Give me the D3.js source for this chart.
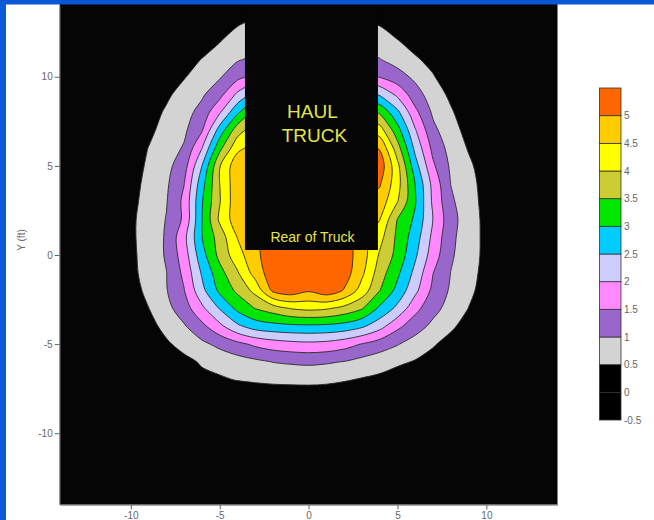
<!DOCTYPE html>
<html><head><meta charset="utf-8">
<script src="https://cdn.jsdelivr.net/npm/d3@7"></script>
<style>html,body{margin:0;padding:0;background:#fff;overflow:hidden;} svg{display:block;}</style>
</head><body><svg id="c" width="654" height="520"></svg>
<script>
// ---- data ----
const xTicks = [-10, -5, 0, 5, 10];
const yTicks = [-10, -5, 0, 5, 10];
const levels = [0.5, 1, 1.5, 2, 2.5, 3, 3.5, 4, 4.5, 5];
const levelColors = ["#d3d3d3", "#9966cc", "#ff88ff", "#ccccff", "#00ccff", "#00e600", "#cccc33", "#ffff00", "#ffcc00", "#ff6600"];
const legendBands = [-0.5, 0, 0.5, 1, 1.5, 2, 2.5, 3, 3.5, 4, 4.5, 5];
const legendBandColors = ["#000000", "#000000", "#d3d3d3", "#9966cc", "#ff88ff", "#ccccff", "#00ccff", "#00e600", "#cccc33", "#ffff00", "#ffcc00", "#ff6600"];
const legendLabelValues = [5, 4.5, 4, 3.5, 3, 2.5, 2, 1.5, 1, 0.5, 0, -0.5];
const legendLabels = ["5", "4.5", "4", "3.5", "3", "2.5", "2", "1.5", "1", "0.5", "0", "-0.5"];
// grid columns x = -14..14 (1 ft); rows y = 14 .. -14
const gridX = d3.range(-14, 15);
const gridY = d3.range(14, -15, -1);
const gridRows = [
/* 14 */ [0,0,0,0, 0,0,0,0,0,0,0,0.2,0.3,0.3,0.3,0.3,0.3,0.2,0,0,0,0,0,0,0, 0,0,0,0],
/* 13 */ [0,0,0,0, 0,0,0,0,0,0.2,0.45,0.6,0.65,0.65,0.65,0.65,0.6,0.55,0.45,0.2,0,0,0,0,0, 0,0,0,0],
/* 12 */ [0,0,0,0, 0,0,0,0,0.24,0.48,0.73,0.9,0.95,0.95,0.95,0.95,0.9,0.85,0.78,0.53,0.29,0.05,0,0,0, 0,0,0,0],
/* 11 */ [0,0,0,0, 0,0,0.1,0.3,0.51,0.72,0.94,1.1,1.2,1.2,1.2,1.2,1.15,1.1,1.01,0.79,0.56,0.33,0.1,0,0, 0,0,0,0],
/* 10 */ [0,0,0,0, 0,0,0.22,0.47,0.71,0.95,1.36,1.65,1.8,1.8,1.8,1.8,1.8,1.7,1.47,1.2,0.89,0.54,0.18,0,0, 0,0,0,0],
/*  9 */ [0,0,0,0, 0,0.17,0.42,0.67,0.93,1.34,2.11,2.7,2.9,2.9,2.9,2.9,2.9,2.8,2.45,1.89,1.21,0.75,0.4,0.04,0, 0,0,0,0],
/*  8 */ [0,0,0,0, 0.06,0.31,0.56,0.82,1.17,1.95,2.91,3.7,3.9,3.9,3.9,3.9,3.9,3.8,3.43,2.62,1.63,0.92,0.56,0.21,0, 0,0,0,0],
/*  7 */ [0,0,0,0, 0.15,0.4,0.66,0.91,1.45,2.72,3.78,4.3,4.6,4.6,4.6,4.6,4.6,4.5,4.23,3.19,2.04,1.12,0.7,0.33,0, 0,0,0,0],
/*  6 */ [0,0,0,0, 0.25,0.51,0.76,1.05,1.99,3.36,4.37,4.7,5.1,5.1,5.1,5.1,5.1,5.2,4.96,3.71,2.36,1.36,0.82,0.46,0.09, 0,0,0,0],
/*  5 */ [0,0,0,0, 0.29,0.57,0.85,1.29,2.5,3.97,4.85,4.9,5.3,5.3,5.3,5.3,5.3,5.4,5.3,4.13,2.7,1.58,0.92,0.59,0.26, 0,0,0,0],
/*  4 */ [0,0,0,0, 0.33,0.63,0.92,1.49,2.81,4.0,4.85,4.9,5.3,5.3,5.3,5.3,5.3,5.2,5.05,4.19,2.99,1.84,0.99,0.66,0.32, 0,0,0,0],
/*  3 */ [0,0,0,0, 0.37,0.67,0.97,1.62,2.96,3.97,4.85,4.9,5.3,5.3,5.3,5.3,5.3,4.95,4.8,4.02,3.04,1.9,1.09,0.69,0.35, 0,0,0,0],
/*  2 */ [0,0,0,0, 0.41,0.71,1.02,1.59,2.99,4.09,4.8,4.9,5.3,5.3,5.3,5.3,5.3,4.9,4.52,3.48,2.91,1.99,1.18,0.73,0.37, 0,0,0,0],
/*  1 */ [0,0,0,0, 0.41,0.72,1.05,1.86,2.99,3.73,4.52,4.9,5.3,5.3,5.3,5.3,5.3,4.7,4.17,3.39,2.74,1.87,1.12,0.72,0.38, 0,0,0,0],
/*  0 */ [0,0,0,0, 0.39,0.71,1.05,1.76,2.81,3.65,4.29,4.88,5.3,5.4,5.4,5.4,5.25,4.75,3.94,3.34,2.58,1.75,1.07,0.71,0.38, 0,0,0,0],
/* -1 */ [0,0,0,0, 0.37,0.69,0.99,1.62,2.56,3.32,3.95,4.71,5.3,5.4,5.4,5.4,5.25,4.61,3.74,3.1,2.36,1.51,0.99,0.67,0.35, 0,0,0,0],
/* -2 */ [0,0,0,0, 0.28,0.63,0.97,1.48,2.35,3.11,3.6,4.15,5.1,5.3,5.05,5.3,4.96,4.28,3.51,2.84,2.12,1.37,0.93,0.61,0.3, 0,0,0,0],
/* -3 */ [0,0,0,0, 0.14,0.49,0.85,1.27,1.89,2.53,3.12,3.51,3.75,4.02,4.11,4.05,3.84,3.54,2.9,2.37,1.65,1.16,0.81,0.49,0.15, 0,0,0,0],
/* -4 */ [0,0,0,0, 0,0.34,0.64,0.95,1.37,1.87,2.4,2.72,2.83,2.88,2.9,2.88,2.8,2.58,2.19,1.62,1.21,0.88,0.59,0.29,0, 0,0,0,0],
/* -5 */ [0,0,0,0, 0,0.19,0.43,0.66,0.89,1.13,1.37,1.6,1.75,1.84,1.88,1.84,1.7,1.48,1.25,1.03,0.79,0.55,0.31,0.07,0, 0,0,0,0],
/* -6 */ [0,0,0,0, 0,0,0.14,0.37,0.55,0.66,0.78,0.89,1.01,1.06,1.09,1.05,0.98,0.83,0.71,0.59,0.46,0.3,0.1,0,0, 0,0,0,0],
/* -7 */ [0,0,0,0, 0,0,0,0.1,0.38,0.44,0.52,0.56,0.6,0.61,0.62,0.6,0.54,0.46,0.39,0.24,0.1,0,0,0,0, 0,0,0,0],
/* -8 */ [0,0,0,0, 0,0,0,0,0,0,0.1,0.2,0.2,0.22,0.22,0.2,0.15,0.05,0,0,0,0,0,0,0, 0,0,0,0],
/* -9 */ [0,0,0,0, 0,0,0,0,0,0,0,0,0,0,0,0,0,0,0,0,0,0,0,0,0, 0,0,0,0],
/*-10 */ [0,0,0,0, 0,0,0,0,0,0,0,0,0,0,0,0,0,0,0,0,0,0,0,0,0, 0,0,0,0],
/*-11 */ [0,0,0,0, 0,0,0,0,0,0,0,0,0,0,0,0,0,0,0,0,0,0,0,0,0, 0,0,0,0],
/*-12 */ [0,0,0,0, 0,0,0,0,0,0,0,0,0,0,0,0,0,0,0,0,0,0,0,0,0, 0,0,0,0],
/*-13 */ [0,0,0,0, 0,0,0,0,0,0,0,0,0,0,0,0,0,0,0,0,0,0,0,0,0, 0,0,0,0],
/*-14 */ [0,0,0,0, 0,0,0,0,0,0,0,0,0,0,0,0,0,0,0,0,0,0,0,0,0, 0,0,0,0]
];
const truckX = [-3.58, 3.9];
const truckY = [0.28, 14.5];
const truckTitle = ["HAUL", "TRUCK"];
const truckRear = "Rear of Truck";
const yTitle = "Y (ft)";

// ---- drawing ----
const svg = d3.select("#c");
const FONT = "'Liberation Sans', Arial, Helvetica, sans-serif";
const x = d3.scaleLinear().domain([-14, 14]).range([59.7, 557.5]);
const y = d3.scaleLinear().domain([-14, 14]).range([504.5, 5.5]);

svg.append("defs").append("clipPath").attr("id", "pc")
  .append("rect").attr("x", x(-14)).attr("y", 0).attr("width", x(14) - x(-14)).attr("height", y(-14));

svg.append("rect").attr("x", x(-14)).attr("y", 0).attr("width", x(14) - x(-14)).attr("height", y(-14))
  .attr("fill", "#050505");

const nx = gridX.length, ny = gridY.length;
const values = [].concat(...gridRows);
const contours = d3.contours().size([nx, ny]).thresholds(levels)(values);
const toPx = p => [x(gridX[0] + p[0] - 0.5), y(gridY[0] - (p[1] - 0.5))];
const line = d3.line().curve(d3.curveCatmullRomClosed.alpha(0.5));

const g = svg.append("g").attr("clip-path", "url(#pc)");
contours.forEach((c, i) => {
  let d = "";
  c.coordinates.forEach(poly => poly.forEach(ring => {
    const pts = ring.slice(0, -1).map(toPx);
    if (pts.length > 2) d += line(pts);
  }));
  if (!d) return;
  g.append("path").attr("d", d).attr("fill", levelColors[i]).attr("fill-rule", "evenodd")
    .attr("stroke", "#2a2a2a").attr("stroke-width", 0.9).attr("stroke-linejoin", "round");
});

// truck overlay
g.append("rect").attr("x", x(truckX[0])).attr("y", y(truckY[1]))
  .attr("width", x(truckX[1]) - x(truckX[0])).attr("height", y(truckY[0]) - y(truckY[1]))
  .attr("fill", "#050505");
const tcx = (x(truckX[0]) + x(truckX[1])) / 2 + 1;
svg.append("text").attr("x", tcx).attr("y", 118).attr("text-anchor", "middle")
  .attr("font-family", FONT).attr("font-size", 19).attr("fill", "#e4e44a").text(truckTitle[0]);
svg.append("text").attr("x", tcx + 2).attr("y", 141.5).attr("text-anchor", "middle")
  .attr("font-family", FONT).attr("font-size", 19).attr("fill", "#e4e44a").text(truckTitle[1]);
svg.append("text").attr("x", tcx).attr("y", 242).attr("text-anchor", "middle")
  .attr("font-family", FONT).attr("font-size", 14).attr("fill", "#e4e44a").text(truckRear);

// axes
const axisColor = "#666666";
const fmt = d => String(d);
const ax = svg.append("g").attr("transform", `translate(0,${y(-14)})`)
  .call(d3.axisBottom(x).tickValues(xTicks).tickFormat(fmt).tickSize(5).tickSizeOuter(0).tickPadding(2));
const ay = svg.append("g").attr("transform", `translate(${x(-14)},0)`)
  .call(d3.axisLeft(y).tickValues(yTicks).tickFormat(fmt).tickSize(5).tickSizeOuter(0).tickPadding(2));
[ax, ay].forEach(a => {
  a.select(".domain").attr("stroke", "#555");
  a.selectAll(".tick line").attr("stroke", axisColor);
  a.selectAll(".tick text").attr("fill", axisColor).attr("font-family", FONT).attr("font-size", 10);
});
ax.selectAll(".tick text").attr("dy", null).attr("y", 14.5);
svg.append("text").attr("transform", "translate(25,240) rotate(-90)").attr("text-anchor", "middle")
  .attr("font-family", FONT).attr("font-size", 10).attr("fill", axisColor).text(yTitle);

// color legend
const ly = d3.scaleLinear().domain([-0.5, 5.5]).range([420, 88]);
const lg = svg.append("g");
legendBands.forEach((v, i) => {
  lg.append("rect").attr("x", 599.5).attr("y", ly(v + 0.5)).attr("width", 21.5)
    .attr("height", ly(v) - ly(v + 0.5)).attr("fill", legendBandColors[i])
    .attr("stroke", "#333").attr("stroke-width", 0.8);
});
legendLabelValues.forEach((v, i) => {
  lg.append("text").attr("x", 624).attr("y", ly(v)).attr("dy", "0.35em")
    .attr("font-family", FONT).attr("font-size", 10).attr("fill", axisColor).text(legendLabels[i]);
});

// slide frame (blue border)
svg.append("rect").attr("x", 0).attr("y", 0).attr("width", 654).attr("height", 4.5).attr("fill", "#0857d5");
svg.append("rect").attr("x", 0).attr("y", 0).attr("width", 6).attr("height", 520).attr("fill", "#0a5ad8");
</script></body></html>
